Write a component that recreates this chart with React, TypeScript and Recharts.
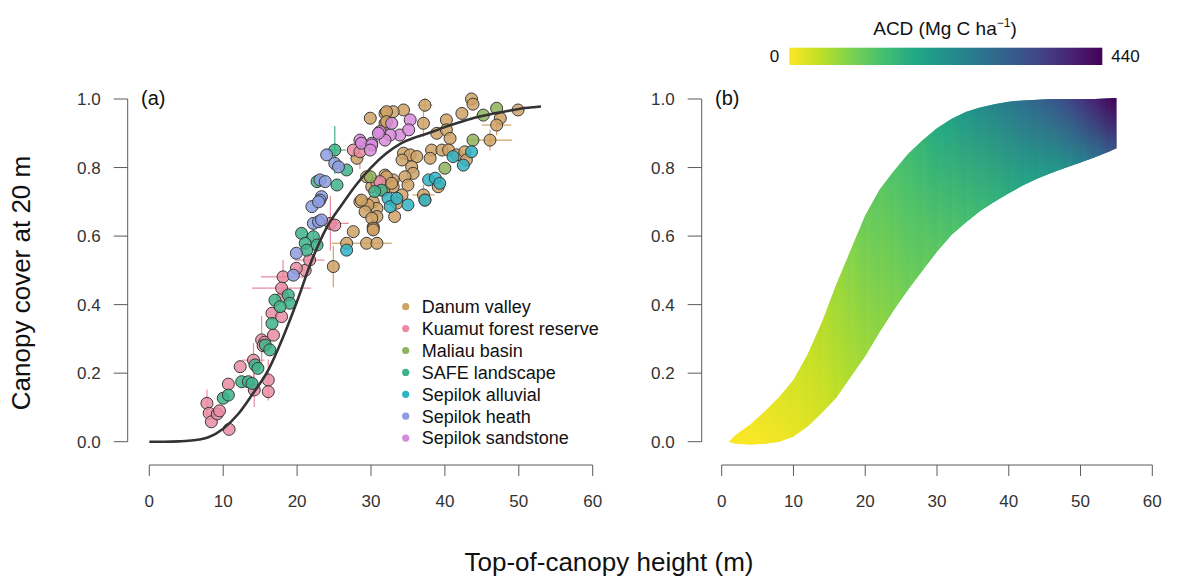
import React from 'react';
import { ComposedChart, Scatter, XAxis, YAxis, ErrorBar, ReferenceLine, Area } from 'recharts';

const FONT = '"Liberation Sans", Arial, sans-serif';

// ---------- axes ----------
const X_TICKS = [0, 10, 20, 30, 40, 50, 60];
const Y_TICKS = [0, 0.2, 0.4, 0.6, 0.8, 1.0];
const Y_DOMAIN: [number, number] = [-0.068, 1.04];
const LEFT_X_DOMAIN: [number, number] = [-2.923, 62.923];
const RIGHT_X_DOMAIN: [number, number] = [-2.787, 62.787];

// ---------- panel (a): plots ----------
type Pt = { x: number; y: number; ex?: number; ey?: number };

const danum: Pt[] = [
  { x: 47.5, y: 0.944 }, { x: 43.6, y: 1.0 }, { x: 43.8, y: 0.985 }, { x: 49.9, y: 0.968 },
  { x: 47.0, y: 0.924, ex: 2, ey: 0.03 }, { x: 46.1, y: 0.88, ex: 3, ey: 0.03 }, { x: 42.3, y: 0.958 },
  { x: 40.2, y: 0.939 }, { x: 37.3, y: 0.982, ex: 1, ey: 0.02 }, { x: 37.1, y: 0.929, ey: 0.04 },
  { x: 34.4, y: 0.968 }, { x: 33.0, y: 0.963 }, { x: 31.9, y: 0.958 }, { x: 31.9, y: 0.929 },
  { x: 38.9, y: 0.9 }, { x: 40.2, y: 0.91 }, { x: 40.7, y: 0.885 }, { x: 38.2, y: 0.851 },
  { x: 39.6, y: 0.851 }, { x: 40.5, y: 0.851 }, { x: 34.4, y: 0.842 }, { x: 35.3, y: 0.837 },
  { x: 36.2, y: 0.832 }, { x: 34.2, y: 0.822 }, { x: 35.5, y: 0.802 }, { x: 38.0, y: 0.827 },
  { x: 41.6, y: 0.837 }, { x: 42.7, y: 0.846 }, { x: 42.9, y: 0.822 }, { x: 35.7, y: 0.783 },
  { x: 34.6, y: 0.773 }, { x: 33.0, y: 0.764 }, { x: 31.9, y: 0.778 }, { x: 33.0, y: 0.744 },
  { x: 35.0, y: 0.749 }, { x: 31.7, y: 0.734 }, { x: 30.1, y: 0.744 }, { x: 30.3, y: 0.7 },
  { x: 30.8, y: 0.681 }, { x: 30.8, y: 0.657 }, { x: 30.3, y: 0.627 }, { x: 33.2, y: 0.657 },
  { x: 34.2, y: 0.72 }, { x: 37.1, y: 0.72, ex: 1.5, ey: 0.03 }, { x: 39.1, y: 0.744 }, { x: 37.3, y: 0.705 },
  { x: 29.9, y: 0.944 }, { x: 32.1, y: 0.963 }, { x: 32.1, y: 0.934 }, { x: 28.1, y: 0.827 },
  { x: 32.1, y: 0.773 }, { x: 32.8, y: 0.754 }, { x: 28.5, y: 0.7 }, { x: 29.6, y: 0.691 },
  { x: 29.2, y: 0.671 }, { x: 30.1, y: 0.652 }, { x: 30.3, y: 0.623 }, { x: 27.6, y: 0.613 },
  { x: 26.7, y: 0.579, ex: 2 }, { x: 29.4, y: 0.579 }, { x: 30.8, y: 0.579, ex: 2 }, { x: 24.9, y: 0.511, ey: 0.06 },
  { x: 33.5, y: 0.696 }, { x: 29.4, y: 0.773 }, { x: 28.7, y: 0.705 }, { x: 30.3, y: 0.618 },
];
const kuamut: Pt[] = [
  { x: 7.8, y: 0.112, ey: 0.04 }, { x: 8.1, y: 0.083 }, { x: 8.4, y: 0.058 }, { x: 9.2, y: 0.081 },
  { x: 9.5, y: 0.09 }, { x: 10.8, y: 0.036 }, { x: 10.7, y: 0.168 }, { x: 12.3, y: 0.219 },
  { x: 14.2, y: 0.151, ey: 0.05 }, { x: 14.1, y: 0.238, ex: 1.5, ey: 0.05 }, { x: 15.2, y: 0.297, ey: 0.07 },
  { x: 15.6, y: 0.29 }, { x: 16.1, y: 0.18, ey: 0.06 }, { x: 16.1, y: 0.146 }, { x: 16.8, y: 0.311 },
  { x: 16.6, y: 0.375 }, { x: 17.9, y: 0.365 }, { x: 18.1, y: 0.423 }, { x: 18.1, y: 0.481, ex: 3, ey: 0.05 },
  { x: 21.1, y: 0.5 }, { x: 24.5, y: 0.637, ex: 2.5, ey: 0.08 }, { x: 25.1, y: 0.632 }, { x: 21.7, y: 0.53, ex: 2 },
  { x: 19.9, y: 0.506 }, { x: 17.9, y: 0.448, ex: 4 }, { x: 15.4, y: 0.28 }, { x: 27.6, y: 0.851 },
  { x: 28.5, y: 0.846, ey: 0.05 }, { x: 30.8, y: 0.754 }, { x: 31.2, y: 0.759 },
];
const maliau: Pt[] = [
  { x: 45.2, y: 0.953, ex: 1 }, { x: 47.0, y: 0.973 }, { x: 43.8, y: 0.88 }, { x: 40.0, y: 0.798 }, { x: 29.9, y: 0.773 },
];
const safe: Pt[] = [
  { x: 25.1, y: 0.851, ex: 1.5, ey: 0.07 }, { x: 26.7, y: 0.793 }, { x: 22.7, y: 0.759 }, { x: 25.4, y: 0.749 },
  { x: 20.6, y: 0.608 }, { x: 22.2, y: 0.598, ey: 0.04 }, { x: 21.1, y: 0.579 }, { x: 22.7, y: 0.574 },
  { x: 21.3, y: 0.559 }, { x: 17.0, y: 0.413 }, { x: 18.8, y: 0.428 }, { x: 19.0, y: 0.404 },
  { x: 17.7, y: 0.394 }, { x: 16.6, y: 0.345 }, { x: 15.7, y: 0.282 }, { x: 16.3, y: 0.268 },
  { x: 14.3, y: 0.224 }, { x: 14.7, y: 0.214 }, { x: 12.5, y: 0.175 }, { x: 13.4, y: 0.175 },
  { x: 13.9, y: 0.17 }, { x: 10.0, y: 0.127 }, { x: 10.7, y: 0.136 }, { x: 31.4, y: 0.734 }, { x: 30.5, y: 0.73 },
];
const sepilokAlluvial: Pt[] = [
  { x: 41.1, y: 0.832 }, { x: 42.5, y: 0.807 }, { x: 43.6, y: 0.846 }, { x: 37.8, y: 0.764 },
  { x: 38.7, y: 0.769 }, { x: 39.3, y: 0.754 }, { x: 32.3, y: 0.71 }, { x: 32.6, y: 0.686 },
  { x: 33.5, y: 0.71 }, { x: 35.0, y: 0.691 }, { x: 37.3, y: 0.705 }, { x: 26.7, y: 0.559 },
];
const sepilokHeath: Pt[] = [
  { x: 24.0, y: 0.837 }, { x: 25.1, y: 0.812 }, { x: 25.6, y: 0.802 }, { x: 23.1, y: 0.764 },
  { x: 23.8, y: 0.759 }, { x: 23.3, y: 0.715 }, { x: 23.1, y: 0.705 }, { x: 22.0, y: 0.686 },
  { x: 22.9, y: 0.7 }, { x: 22.2, y: 0.637 }, { x: 22.9, y: 0.642 }, { x: 23.3, y: 0.647 },
  { x: 19.9, y: 0.55 }, { x: 19.5, y: 0.486 },
];
const sepilokSandstone: Pt[] = [
  { x: 35.3, y: 0.939 }, { x: 33.9, y: 0.895 }, { x: 35.1, y: 0.91 }, { x: 32.6, y: 0.895 },
  { x: 31.2, y: 0.905 }, { x: 31.9, y: 0.88 }, { x: 32.8, y: 0.929 }, { x: 30.1, y: 0.871 },
  { x: 28.5, y: 0.88 }, { x: 28.7, y: 0.871 }, { x: 30.1, y: 0.866 }, { x: 29.9, y: 0.851 }, { x: 31.0, y: 0.9 },
];

const SITE_NAMES = ['Danum valley', 'Kuamut forest reserve', 'Maliau basin', 'SAFE landscape', 'Sepilok alluvial', 'Sepilok heath', 'Sepilok sandstone'];
const SITE_COLORS = ['#cfa265', '#e98ca2', '#8fb25c', '#3eb38a', '#2fb3c6', '#8d9de0', '#d78bdb'];
const SITE_DATA = [danum, kuamut, maliau, safe, sepilokAlluvial, sepilokHeath, sepilokSandstone];

// fitted curve
const fitHeight = [0, 2, 4, 6, 8, 10, 12, 14, 16, 18, 20, 22, 24, 26, 28, 30, 32, 34, 36, 38, 40, 42, 44, 46, 48, 50, 52, 53];
const fitCover = [0, 0, 0.001, 0.004, 0.013, 0.038, 0.08, 0.14, 0.205, 0.3, 0.41, 0.53, 0.625, 0.69, 0.75, 0.80, 0.84, 0.87, 0.888, 0.902, 0.918, 0.932, 0.945, 0.955, 0.963, 0.971, 0.976, 0.978];

// ---------- panel (b): band ----------
const bandHeight = [1, 2, 4, 6, 8, 10, 12, 14, 16, 18, 20, 22, 24, 26, 28, 30, 32, 34, 36, 38, 40, 42, 44, 46, 48, 50, 52, 54, 55];
const bandUpper = [0, 0.02, 0.05, 0.088, 0.13, 0.18, 0.255, 0.35, 0.46, 0.56, 0.66, 0.735, 0.79, 0.84, 0.88, 0.915, 0.942, 0.962, 0.975, 0.985, 0.992, 0.996, 0.998, 1.0, 1.0, 1.0, 1.0, 1.002, 1.003];
const bandLower = [0, -0.006, -0.008, -0.006, 0.0, 0.015, 0.045, 0.085, 0.13, 0.19, 0.25, 0.32, 0.385, 0.445, 0.5, 0.555, 0.603, 0.64, 0.673, 0.7, 0.725, 0.748, 0.768, 0.785, 0.8, 0.815, 0.83, 0.847, 0.856];
const acdUpper = [0, 3, 8, 15, 22, 30, 40, 52, 68, 85, 105, 115, 125, 140, 155, 175, 190, 210, 228, 245, 264, 282, 300, 318, 340, 370, 400, 430, 440];
const acdLower = [0, 1, 2, 4, 8, 13, 20, 28, 40, 52, 62, 72, 82, 93, 100, 108, 118, 128, 138, 150, 163, 175, 185, 198, 215, 240, 270, 310, 330];
const ACD_MAX = 440;
const ACD_LABELS = ['0', '440'];

const VIRIDIS = ['#440154', '#482475', '#414487', '#355f8d', '#2a788e', '#21918c', '#22a884', '#44bf70', '#7ad151', '#bddf26', '#fde725'];

function hexToRgb(h: string) {
  return [parseInt(h.slice(1, 3), 16), parseInt(h.slice(3, 5), 16), parseInt(h.slice(5, 7), 16)];
}
function viridis(t: number) {
  const tt = Math.max(0, Math.min(1, t));
  const n = VIRIDIS.length - 1;
  const f = tt * n;
  const i = Math.min(n - 1, Math.floor(f));
  const u = f - i;
  const a = hexToRgb(VIRIDIS[i]);
  const b = hexToRgb(VIRIDIS[i + 1]);
  const c = a.map((v, k) => Math.round(v + (b[k] - v) * u));
  return `rgb(${c[0]},${c[1]},${c[2]})`;
}
const acdColor = (v: number) => viridis(1 - v / ACD_MAX);

const bandRows = bandHeight.map((x, i) => ({ x, i, lo: bandLower[i], hi: bandUpper[i] }));

const axisStroke = '#5a5a5a';
const tickStyle = { fontSize: 17, fill: '#333', fontFamily: FONT };

function PointShape(color: string) {
  return (p: any) => (
    <circle cx={p.cx} cy={p.cy} r={6} fill={color} fillOpacity={0.85} stroke="#3a3a3a" strokeWidth={1} />
  );
}

function LeftPanel() {
  const fitData = fitHeight.map((x, i) => ({ x, y: fitCover[i] }));
  return (
    <ComposedChart width={640} height={579} margin={{ top: 85.3, right: 25.7, bottom: 74, left: 67.7 }}>
      <XAxis
        type="number" dataKey="x" domain={LEFT_X_DOMAIN} allowDataOverflow ticks={X_TICKS}
        axisLine={false} tickSize={11} tickMargin={19} tickLine={{ stroke: axisStroke }}
        tick={tickStyle} height={40} interval={0}
      />
      <YAxis
        type="number" dataKey="y" domain={Y_DOMAIN} allowDataOverflow ticks={Y_TICKS}
        axisLine={false} tickSize={14} tickMargin={13} tickLine={{ stroke: axisStroke }}
        tick={tickStyle} width={60} interval={0} tickFormatter={(v: number) => v.toFixed(1)}
      />
      <ReferenceLine segment={[{ x: 0, y: Y_DOMAIN[0] }, { x: 60, y: Y_DOMAIN[0] }]} stroke={axisStroke} ifOverflow="visible" />
      <ReferenceLine segment={[{ x: LEFT_X_DOMAIN[0], y: 0 }, { x: LEFT_X_DOMAIN[0], y: 1 }]} stroke={axisStroke} ifOverflow="visible" />
      {SITE_DATA.map((d, si) => (
        <Scatter
          key={SITE_NAMES[si]}
          name={SITE_NAMES[si]}
          data={d.map((p) => ({ ex: 0, ey: 0, ...p }))}
          shape={PointShape(SITE_COLORS[si])}
          isAnimationActive={false}
        >
          <ErrorBar dataKey="ex" direction="x" width={0} stroke={SITE_COLORS[si]} strokeWidth={1.2} />
          <ErrorBar dataKey="ey" direction="y" width={0} stroke={SITE_COLORS[si]} strokeWidth={1.2} />
        </Scatter>
      ))}
      <Scatter
        data={fitData}
        line={{ stroke: '#333', strokeWidth: 2.6 }}
        lineJointType="monotoneX"
        shape={() => <g />}
        isAnimationActive={false}
      />
    </ComposedChart>
  );
}

function RightPanel() {
  const n = bandHeight.length;
  const x0 = bandHeight[0];
  const span = bandHeight[n - 1] - x0;
  const strips = bandHeight.slice(0, n - 1).map((_, i) => i);
  return (
    <ComposedChart width={578} height={579} data={bandRows} margin={{ top: 85.3, right: 5.7, bottom: 74, left: 41.7 }}>
      <defs>
        <linearGradient id="bandBase" x1="0" y1="0" x2="1" y2="0">
          {bandHeight.map((x, i) => (
            <stop key={i} offset={(x - x0) / span} stopColor={acdColor((acdUpper[i] + acdLower[i]) / 2)} />
          ))}
        </linearGradient>
        <linearGradient id="fadeV" x1="0" y1="1" x2="0" y2="0">
          <stop offset={0} stopColor="#fff" stopOpacity={0} />
          <stop offset={1} stopColor="#fff" stopOpacity={1} />
        </linearGradient>
        <mask id="maskV" maskUnits="objectBoundingBox" maskContentUnits="objectBoundingBox" x="0" y="0" width="1" height="1">
          <rect x={0} y={0} width={1} height={1} fill="url(#fadeV)" />
        </mask>
        {strips.map((i) => (
          <linearGradient key={`lo${i}`} id={`lowH${i}`} x1="0" y1="0" x2="1" y2="0">
            <stop offset={0} stopColor={acdColor(acdLower[i])} />
            <stop offset={1} stopColor={acdColor(acdLower[i + 1])} />
          </linearGradient>
        ))}
        {strips.map((i) => (
          <linearGradient key={`up${i}`} id={`upH${i}`} x1="0" y1="0" x2="1" y2="0">
            <stop offset={0} stopColor={acdColor(acdUpper[i])} />
            <stop offset={1} stopColor={acdColor(acdUpper[i + 1])} />
          </linearGradient>
        ))}
        {strips.map((i) => (
          <pattern key={`p${i}`} id={`strip${i}`} patternUnits="objectBoundingBox" patternContentUnits="objectBoundingBox" x="0" y="0" width="1" height="1">
            <rect x={0} y={0} width={1} height={1} fill={`url(#lowH${i})`} />
            <rect x={0} y={0} width={1} height={1} fill={`url(#upH${i})`} mask="url(#maskV)" />
          </pattern>
        ))}
      </defs>
      <XAxis
        type="number" dataKey="x" domain={RIGHT_X_DOMAIN} allowDataOverflow ticks={X_TICKS}
        axisLine={false} tickSize={11} tickMargin={19} tickLine={{ stroke: axisStroke }}
        tick={tickStyle} height={40} interval={0}
      />
      <YAxis
        type="number" domain={Y_DOMAIN} allowDataOverflow ticks={Y_TICKS}
        axisLine={false} tickSize={14} tickMargin={13} tickLine={{ stroke: axisStroke }}
        tick={tickStyle} width={60} interval={0} tickFormatter={(v: number) => v.toFixed(1)}
      />
      <ReferenceLine segment={[{ x: 0, y: Y_DOMAIN[0] }, { x: 60, y: Y_DOMAIN[0] }]} stroke={axisStroke} ifOverflow="visible" />
      <ReferenceLine segment={[{ x: RIGHT_X_DOMAIN[0], y: 0 }, { x: RIGHT_X_DOMAIN[0], y: 1 }]} stroke={axisStroke} ifOverflow="visible" />
      <Area
        type="linear"
        dataKey={(d: any) => [d.lo, d.hi]}
        fill="url(#bandBase)"
        fillOpacity={1}
        stroke="none"
        dot={false}
        activeDot={false}
        isAnimationActive={false}
      />
      {strips.map((i) => (
        <Area
          key={i}
          type="linear"
          dataKey={(d: any) => (d.i === i || d.i === i + 1 ? [d.lo, d.hi] : null)}
          fill={`url(#strip${i})`}
          fillOpacity={1}
          stroke="none"
          dot={false}
          activeDot={false}
          isAnimationActive={false}
        />
      ))}
    </ComposedChart>
  );
}

function Overlay() {
  const legendTop = 306.7;
  const legendStep = 21.9;
  const cbX = 789.3, cbY = 47.7, cbW = 313, cbH = 17.3;
  const cbStops = [...VIRIDIS].reverse();
  return (
    <svg width={1178} height={579} style={{ position: 'absolute', left: 0, top: 0, pointerEvents: 'none' }} fontFamily={FONT}>
      <defs>
        <linearGradient id="cbar" x1="0" y1="0" x2="1" y2="0">
          {cbStops.map((c, i) => (
            <stop key={i} offset={i / (cbStops.length - 1)} stopColor={c} />
          ))}
        </linearGradient>
      </defs>
      <text transform="translate(30,283) rotate(-90)" textAnchor="middle" fontSize={26} fill="#111">Canopy cover at 20 m</text>
      <text x={609} y={571} textAnchor="middle" fontSize={26} fill="#111">Top-of-canopy height (m)</text>
      <text x={141} y={105} fontSize={20} fill="#111">(a)</text>
      <text x={715} y={105} fontSize={20} fill="#111">(b)</text>
      {SITE_NAMES.map((nm, i) => (
        <g key={nm}>
          <circle cx={405.7} cy={legendTop + i * legendStep} r={3.6} fill={SITE_COLORS[i]} />
          <text x={421.7} y={legendTop + i * legendStep + 6.3} fontSize={18} fill="#111">{nm}</text>
        </g>
      ))}
      <rect x={cbX} y={cbY} width={cbW} height={cbH} fill="url(#cbar)" />
      <text x={cbX - 10} y={62} textAnchor="end" fontSize={17} fill="#111">{ACD_LABELS[0]}</text>
      <text x={cbX + cbW + 9} y={62} fontSize={17} fill="#111">{ACD_LABELS[1]}</text>
      <text x={945} y={35} textAnchor="middle" fontSize={19} fill="#111">
        ACD (Mg C ha
        <tspan dy={-8} fontSize={12}>−1</tspan>
        <tspan dy={8}>)</tspan>
      </text>
    </svg>
  );
}

export default function App() {
  return (
    <div style={{ position: 'absolute', left: 0, top: 0, width: 1178, height: 579, background: '#fff', fontFamily: FONT, overflow: 'hidden' }}>
      <div style={{ position: 'absolute', left: 0, top: 0 }}>
        <LeftPanel />
      </div>
      <div style={{ position: 'absolute', left: 600, top: 0 }}>
        <RightPanel />
      </div>
      <Overlay />
    </div>
  );
}
